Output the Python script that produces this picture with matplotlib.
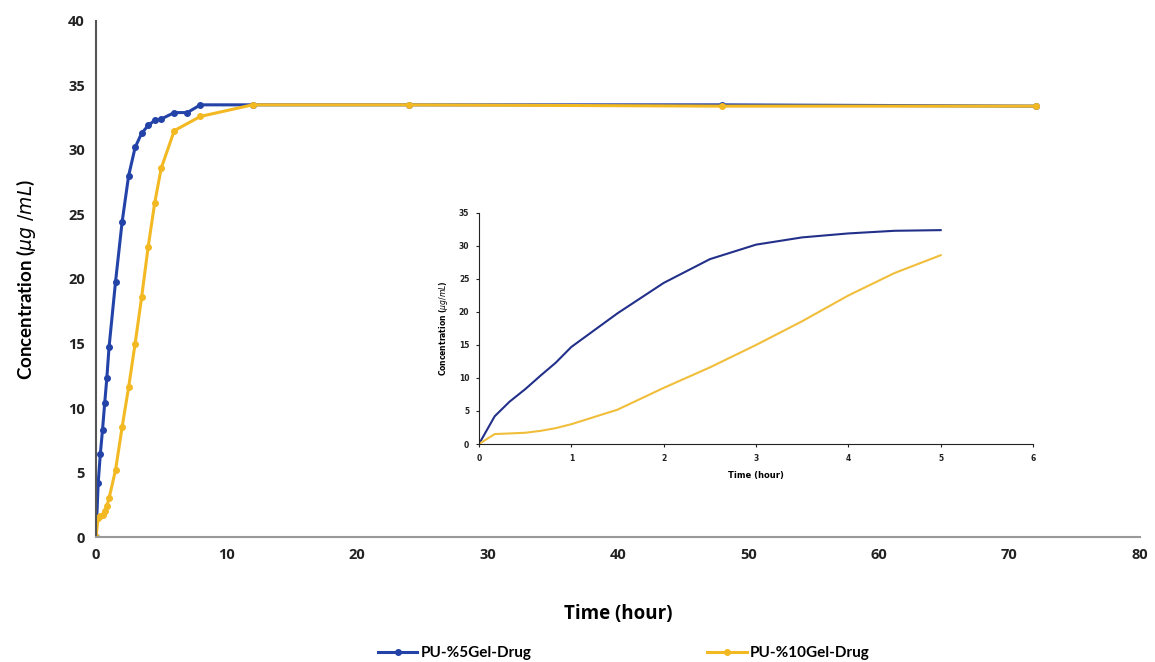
import numpy as np
import matplotlib.pyplot as plt

# sampling times (hour) and concentrations (ug/mL)
t5 = [0, 0.17, 0.33, 0.5, 0.67, 0.83, 1, 1.5, 2, 2.5, 3, 3.5, 4, 4.5, 5, 6, 7, 8, 12, 24, 48, 72]
c5 = [0, 4.2, 6.4, 8.3, 10.4, 12.3, 14.7, 19.8, 24.4, 28.0, 30.2, 31.3, 31.9, 32.3, 32.4, 32.9, 32.9, 33.5, 33.5, 33.5, 33.5, 33.4]

t10 = [0, 0.17, 0.33, 0.5, 0.67, 0.83, 1, 1.5, 2, 2.5, 3, 3.5, 4, 4.5, 5, 6, 8, 12, 24, 48, 72]
c10 = [0, 1.5, 1.6, 1.7, 2.0, 2.4, 3.0, 5.2, 8.5, 11.6, 15.0, 18.6, 22.5, 25.9, 28.6, 31.5, 32.6, 33.5, 33.5, 33.4, 33.4]

labels = ['PU-%5Gel-Drug', 'PU-%10Gel-Drug']
blue = '#2343A8'
yellow = '#F3B923'

fig = plt.figure(figsize=(11.55, 6.62), dpi=100)
ax = fig.add_axes([0.0831, 0.1888, 0.9039, 0.7795])

ax.plot(t5, c5, '-o', color=blue, lw=2.2, ms=4, label=labels[0])
ax.plot(t10, c10, '-o', color=yellow, lw=2.2, ms=4, label=labels[1])

ax.set_xlim(0, 80)
ax.set_ylim(0, 40)
ax.set_xticks(np.arange(0, 81, 10))
ax.set_yticks(np.arange(0, 41, 5))
for s in ['top', 'right']:
    ax.spines[s].set_visible(False)
ax.spines['left'].set_color('#555555')
ax.spines['bottom'].set_color('#999999')
ax.spines['left'].set_linewidth(1.5)
ax.spines['bottom'].set_linewidth(1.5)
ax.tick_params(length=0, pad=8, labelsize=10.5, colors='#222222')
for lab in ax.get_xticklabels() + ax.get_yticklabels():
    lab.set_fontweight('bold')
    lab.set_family('Open Sans')
ax.set_xlabel('Time (hour)', fontsize=13.5, fontweight='bold', family='Open Sans', labelpad=30)
ax.set_ylabel('Concentration ($\\mu g\\ /mL$)', fontsize=13.5, fontweight='bold', family='Lato', labelpad=22)

fig.legend(loc='lower center', bbox_to_anchor=(0.54, -0.018), ncol=2, frameon=False,
           handlelength=2.6, columnspacing=11.5, handletextpad=0.2,
           prop={'family': 'Lato', 'weight': 'bold', 'size': 11})

# inset: first 5 hours
ins = fig.add_axes([0.4147, 0.3293, 0.4797, 0.349])
m5 = [i for i, t in enumerate(t5) if t <= 5]
m10 = [i for i, t in enumerate(t10) if t <= 5]
ins.plot([t5[i] for i in m5], [c5[i] for i in m5], color='#22308A', lw=1.5)
ins.plot([t10[i] for i in m10], [c10[i] for i in m10], color='#F0BE3A', lw=1.5)
ins.set_xlim(0, 6)
ins.set_ylim(0, 35)
ins.set_xticks(np.arange(0, 7, 1))
ins.set_yticks(np.arange(0, 36, 5))
for s in ['top', 'right']:
    ins.spines[s].set_visible(False)
ins.spines['left'].set_color('#222222')
ins.spines['bottom'].set_color('#222222')
ins.tick_params(length=2, pad=5, labelsize=5.5, colors='#222222')
for lab in ins.get_xticklabels() + ins.get_yticklabels():
    lab.set_fontweight('bold')
ins.set_xlabel('Time (hour)', fontsize=6, fontweight='bold', labelpad=6)
ins.set_ylabel('Concentration ($\\mu g/mL$)', fontsize=5.5, fontweight='bold', labelpad=6)

fig.savefig('out.png', dpi=100)
